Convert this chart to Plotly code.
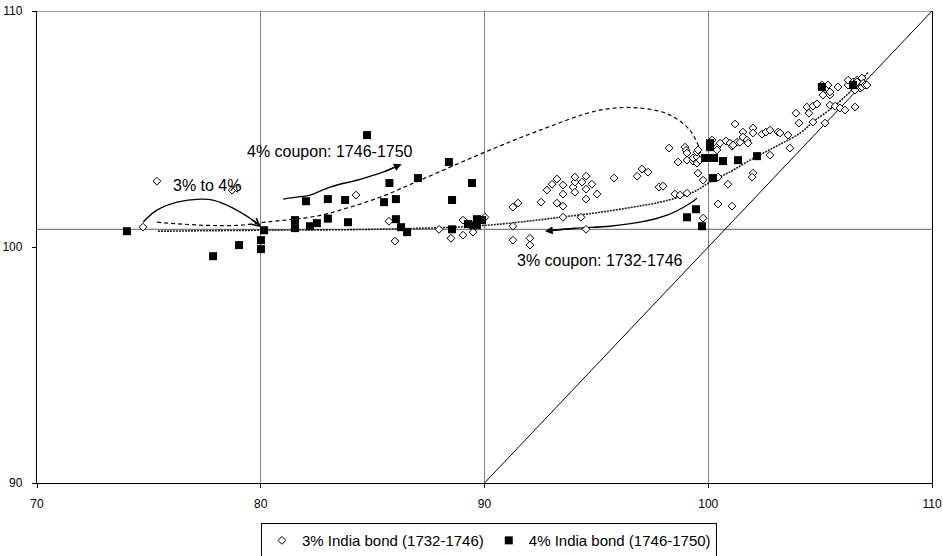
import plotly.graph_objects as go

# ---- data ----
bond3_x = [74.74, 75.36, 78.72, 78.94, 84.26, 85.73, 86.00, 87.97, 88.50, 89.04, 89.04, 89.49,
           90.02, 91.27, 91.50, 91.27, 91.27, 92.03, 92.03, 92.53, 92.79, 93.02, 93.24, 93.51,
           93.51, 93.24, 93.51, 93.51, 93.96, 94.04, 94.04, 94.04, 94.36, 94.54, 94.54, 94.54,
           94.80, 95.03, 94.31, 94.54, 95.79, 96.82, 97.04, 97.31, 97.80, 97.98, 98.51, 98.74,
           99.05, 98.25, 98.65, 98.96, 99.01, 99.05, 99.05, 99.32, 99.32, 99.50, 99.50, 99.50,
           99.54, 99.63, 99.54, 99.77, 99.77, 100.08, 100.17, 100.39, 100.53, 100.79, 100.97,
           101.06, 101.29, 101.20, 100.44, 100.44, 100.88, 101.06, 100.39, 101.55, 101.55,
           101.73, 101.78, 102.00, 102.00, 102.40, 102.58, 102.76, 103.12, 103.21, 103.56,
           102.76, 102.00, 101.96, 103.65, 103.92, 104.06, 104.41, 104.50, 104.68, 104.86,
           104.68, 105.22, 105.44, 105.13, 105.44, 105.08, 105.35, 105.80, 105.67, 105.89,
           106.11, 106.25, 106.25, 106.47, 106.56, 106.65, 106.65, 106.78, 106.87, 106.87,
           106.92, 107.00, 107.09, 105.22, 105.44, 106.56, 101.11, 101.42]
bond3_y = [100.84, 102.79, 102.41, 102.49, 102.20, 101.09, 100.25, 100.75, 100.37, 101.14, 100.50, 100.63,
           101.26, 101.69, 101.86, 100.88, 100.29, 100.37, 100.08, 101.90, 102.41, 102.66, 102.88, 102.62,
           102.24, 101.86, 101.73, 101.26, 102.54, 102.75, 102.96, 102.32, 102.75, 103.00, 102.45, 102.03,
           102.66, 102.24, 101.26, 100.75, 102.92, 103.00, 103.30, 103.17, 102.54, 102.58, 102.24, 102.20,
           102.28, 104.19, 103.60, 104.23, 104.10, 103.98, 103.68, 103.64, 103.77, 103.55, 103.81, 104.02,
           104.11, 103.68, 103.13, 102.83, 101.22, 104.44, 104.53, 104.23, 104.40, 104.49, 104.40,
           104.27, 104.44, 105.21, 102.96, 101.82, 102.66, 101.73, 104.11, 104.87, 104.66,
           104.53, 104.40, 105.04, 104.83, 104.78, 104.87, 104.95, 104.87, 104.83, 104.74,
           103.89, 103.13, 102.96, 104.19, 105.67, 105.25, 105.93, 105.67, 105.97, 106.06,
           105.29, 105.25, 106.01, 106.44, 106.44, 106.86, 106.86, 106.78, 105.97, 105.89,
           105.80, 106.86, 107.07, 106.99, 105.93, 107.07, 106.99, 106.73, 107.16, 106.78,
           106.94, 106.86, 106.86, 106.70, 106.57, 106.65, 104.32, 104.44]

bond4_x = [74.02, 77.87, 79.03, 80.01, 80.01, 80.15, 81.53, 81.53, 82.02, 82.20, 82.51, 83.00,
           83.00, 83.77, 83.90, 84.75, 85.51, 85.75, 86.04, 86.04, 86.27, 86.54, 87.03, 88.41,
           88.55, 88.55, 89.44, 89.26, 89.66, 89.66, 89.89, 89.50, 99.45, 99.05, 99.72, 100.08,
           99.86, 100.08, 100.26, 100.08, 100.66, 101.33, 102.18, 100.21, 105.08, 106.47]
bond4_y = [100.67, 99.61, 100.08, 100.29, 99.91, 100.71, 101.14, 100.80, 101.94, 100.88, 101.01, 102.03,
           101.20, 101.99, 101.05, 104.74, 101.90, 102.71, 102.03, 101.18, 100.84, 100.63, 102.92, 103.60,
           101.99, 100.75, 102.71, 100.97, 101.18, 100.92, 101.14, 100.92, 101.60, 101.26, 100.88, 104.23,
           103.77, 103.77, 103.77, 104.40, 103.64, 103.68, 103.85, 102.92, 106.78, 106.86]

trend3_x = [75.4, 80.0, 85.0, 89.5, 91.9, 93.37, 94.85, 96.37, 97.84, 99.32, 100.08, 101.0,
            101.87, 103.0, 104.11, 104.68, 105.58, 106.47, 107.14]
trend3_y = [100.67, 100.71, 100.75, 100.88, 101.09, 101.26, 101.43, 101.65, 101.90, 102.32, 102.75, 103.2,
            103.68, 104.25, 104.83, 105.3, 105.93, 106.7, 107.4]

trend4_x = [75.36, 77.5, 79.0, 80.2, 82.51, 83.54, 85.33, 87.12, 90.02, 92.48, 95.16, 96.95,
            98.29, 99.18, 99.6]
trend4_y = [101.05, 100.92, 100.92, 101.05, 101.31, 101.56, 102.11, 102.83, 104.02, 104.95, 105.80, 105.89,
            105.59, 104.95, 104.2]

arc34_x = [74.74, 75.36, 76.26, 77.29, 77.87, 78.76, 79.52, 79.97]
arc34_y = [101.05, 101.56, 101.90, 102.03, 101.99, 101.65, 101.22, 100.92]

arr4_x = [81.0, 81.75, 82.2, 83.1, 84.44, 85.46, 86.2]
arr4_y = [102.03, 102.13, 102.2, 102.54, 102.87, 103.17, 103.47]

arr3_x = [99.5, 99.05, 98.16, 96.95, 95.61, 94.13, 92.9]
arr3_y = [102.07, 101.77, 101.35, 101.05, 100.88, 100.80, 100.70]

diag = [90, 110]
ref_level = 100.75

labels = ["3% to 4%", "4% coupon: 1746-1750", "3% coupon: 1732-1746"]
label_x = [77.6, 83.1, 95.16]
label_y = [102.62, 104.06, 99.44]

FONT = "Liberation Sans, Arial, sans-serif"

fig = go.Figure()

# 45 degree line
fig.add_trace(go.Scatter(x=diag, y=diag, mode="lines", line=dict(color="black", width=1),
                         showlegend=False, hoverinfo="skip"))
# trend lines
fig.add_trace(go.Scatter(x=trend3_x, y=trend3_y, mode="lines", line_shape="spline",
                         line=dict(color="#222222", width=1.6, dash="2px,1px"),
                         showlegend=False, hoverinfo="skip"))
fig.add_trace(go.Scatter(x=trend4_x, y=trend4_y, mode="lines", line_shape="spline",
                         line=dict(color="black", width=1.2, dash="4px,3px"),
                         showlegend=False, hoverinfo="skip"))
# arrow curves
for ax_, ay_ in [(arc34_x, arc34_y), (arr4_x, arr4_y), (arr3_x, arr3_y)]:
    fig.add_trace(go.Scatter(x=ax_, y=ay_, mode="lines", line_shape="spline",
                             line=dict(color="black", width=1.3),
                             showlegend=False, hoverinfo="skip"))

# data series
fig.add_trace(go.Scatter(x=bond3_x, y=bond3_y, mode="markers", name="3% India bond (1732-1746)",
                         marker=dict(symbol="diamond", size=6, color="white",
                                     line=dict(color="black", width=1))))
fig.add_trace(go.Scatter(x=bond4_x, y=bond4_y, mode="markers", name="4% India bond (1746-1750)",
                         marker=dict(symbol="square", size=8, color="black",
                                     line=dict(color="black", width=0))))

# arrowheads
heads = [
    (arc34_x[-1] + 0.05, arc34_y[-1] - 0.08, arc34_x[-2], arc34_y[-2], 5),
    (arr4_x[-1] + 0.1, arr4_y[-1] + 0.04, arr4_x[-2], arr4_y[-2], 2),
    (arr3_x[-1] - 0.2, arr3_y[-1] - 0.03, arr3_x[-2], arr3_y[-2], 2),
]
for hx, hy, tx, ty, style in heads:
    fig.add_annotation(x=hx, y=hy, ax=tx, ay=ty, xref="x", yref="y", axref="x", ayref="y",
                       text="", showarrow=True, arrowhead=style, arrowsize=1.2, arrowwidth=1.3,
                       arrowcolor="black", standoff=0)

for t, lx, ly in zip(labels, label_x, label_y):
    fig.add_annotation(x=lx, y=ly, text=t, showarrow=False, xref="x", yref="y",
                       font=dict(family=FONT, size=16, color="black"))

# reference lines
fig.add_shape(type="line", xref="x", yref="y", x0=70, x1=110, y0=ref_level, y1=ref_level,
              line=dict(color="#808080", width=1.3), layer="below")
fig.add_shape(type="line", xref="x", yref="y", x0=70, x1=110, y0=110, y1=110,
              line=dict(color="#808080", width=1.3), layer="below")

fig.update_layout(
    width=943, height=556,
    margin=dict(l=37, r=11, t=11, b=73, autoexpand=False),
    paper_bgcolor="white", plot_bgcolor="white",
    font=dict(family=FONT, size=12, color="black"),
    showlegend=True,
    legend=dict(orientation="h", x=0.505, xanchor="center", y=-0.085, yanchor="top",
                bordercolor="black", borderwidth=1, font=dict(size=15),
                itemwidth=30, tracegroupgap=0, bgcolor="white"),
    xaxis=dict(range=[70, 110], dtick=10, tick0=70, showgrid=True, gridcolor="#808080", gridwidth=1.3,
               zeroline=False, showline=True, linecolor="black", linewidth=1.3,
               ticks="outside", ticklen=4, tickcolor="black", ticklabelstandoff=5,
               tickfont=dict(size=12)),
    yaxis=dict(range=[90, 110], dtick=10, tick0=90, showgrid=False, zeroline=False,
               showline=True, linecolor="black", linewidth=1.3, mirror=True,
               ticks="outside", ticklen=4, tickcolor="black", ticklabelstandoff=7,
               tickfont=dict(size=12)),
)

fig.write_html("out.html", config={"displayModeBar": False},
               post_script="document.body.style.margin='0';document.body.style.overflow='hidden';")
